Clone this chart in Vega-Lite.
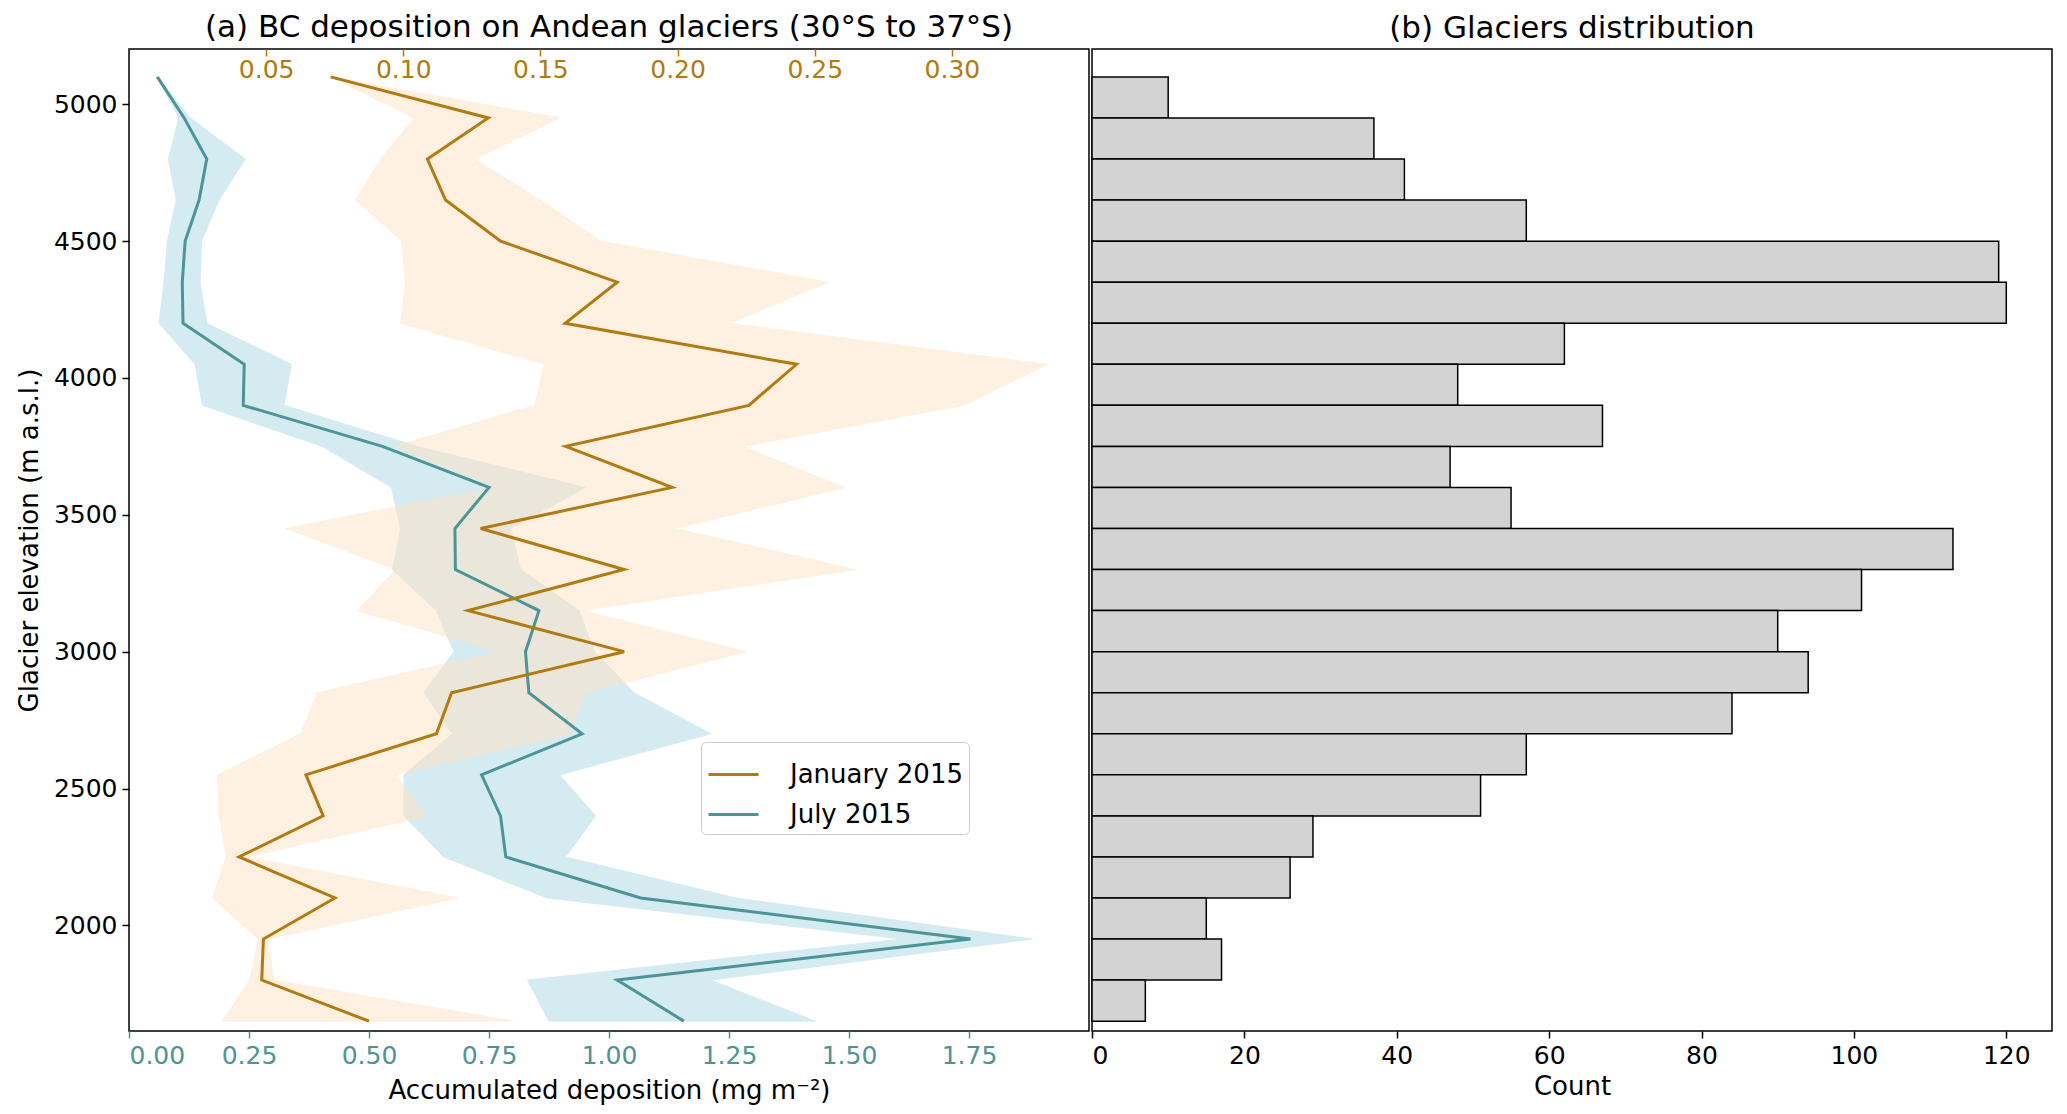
{
  "$schema": "https://vega.github.io/schema/vega-lite/v6.json",
  "background": "white",
  "padding": {"left": 15, "top": 11, "right": 10, "bottom": 10},
  "spacing": 0,
  "config": {
    "font": "DejaVu Sans",
    "view": {"stroke": "black", "strokeWidth": 1.5},
    "axis": {
      "labelFont": "DejaVu Sans", "labelFontSize": 25, "labelColor": "black",
      "titleFont": "DejaVu Sans", "titleFontSize": 26, "titleFontWeight": "normal", "titleColor": "black",
      "domain": false, "grid": false, "tickColor": "black", "tickSize": 7, "tickWidth": 1.5, "labelPadding": 5
    },
    "title": {"font": "DejaVu Sans", "fontSize": 31, "fontWeight": "normal", "color": "black", "offset": 0}
  },
  "datasets": {
    "bc": [
      {"elev": 5100, "jan": 0.0735, "jan_lo": 0.0735, "jan_hi": 0.0735, "jul": 0.059, "jul_lo": 0.059, "jul_hi": 0.059},
      {"elev": 4950, "jan": 0.131, "jan_lo": 0.104, "jan_hi": 0.157, "jul": 0.115, "jul_lo": 0.104, "jul_hi": 0.128},
      {"elev": 4800, "jan": 0.1088, "jan_lo": 0.0917, "jan_hi": 0.126, "jul": 0.162, "jul_lo": 0.082, "jul_hi": 0.242},
      {"elev": 4650, "jan": 0.1154, "jan_lo": 0.0826, "jan_hi": 0.150, "jul": 0.146, "jul_lo": 0.0985, "jul_hi": 0.1875},
      {"elev": 4500, "jan": 0.1355, "jan_lo": 0.0994, "jan_hi": 0.172, "jul": 0.117, "jul_lo": 0.080, "jul_hi": 0.151},
      {"elev": 4350, "jan": 0.178, "jan_lo": 0.1008, "jan_hi": 0.255, "jul": 0.111, "jul_lo": 0.073, "jul_hi": 0.148},
      {"elev": 4200, "jan": 0.159, "jan_lo": 0.099, "jan_hi": 0.219, "jul": 0.1125, "jul_lo": 0.0625, "jul_hi": 0.162},
      {"elev": 4050, "jan": 0.2434, "jan_lo": 0.1515, "jan_hi": 0.3348, "jul": 0.240, "jul_lo": 0.1375, "jul_hi": 0.338},
      {"elev": 3900, "jan": 0.226, "jan_lo": 0.148, "jan_hi": 0.3044, "jul": 0.238, "jul_lo": 0.153, "jul_hi": 0.323},
      {"elev": 3750, "jan": 0.1592, "jan_lo": 0.0966, "jan_hi": 0.2236, "jul": 0.528, "jul_lo": 0.403, "jul_hi": 0.600},
      {"elev": 3600, "jan": 0.198, "jan_lo": 0.133, "jan_hi": 0.261, "jul": 0.750, "jul_lo": 0.5465, "jul_hi": 0.951},
      {"elev": 3450, "jan": 0.1282, "jan_lo": 0.0571, "jan_hi": 0.199, "jul": 0.679, "jul_lo": 0.566, "jul_hi": 0.795},
      {"elev": 3300, "jan": 0.1805, "jan_lo": 0.0973, "jan_hi": 0.265, "jul": 0.680, "jul_lo": 0.549, "jul_hi": 0.816},
      {"elev": 3150, "jan": 0.1236, "jan_lo": 0.0832, "jan_hi": 0.1653, "jul": 0.854, "jul_lo": 0.640, "jul_hi": 0.9375},
      {"elev": 3000, "jan": 0.1805, "jan_lo": 0.1349, "jan_hi": 0.225, "jul": 0.826, "jul_lo": 0.677, "jul_hi": 0.970},
      {"elev": 2850, "jan": 0.1176, "jan_lo": 0.0686, "jan_hi": 0.1665, "jul": 0.833, "jul_lo": 0.6146, "jul_hi": 1.052},
      {"elev": 2700, "jan": 0.1121, "jan_lo": 0.0626, "jan_hi": 0.161, "jul": 0.944, "jul_lo": 0.6736, "jul_hi": 1.2118},
      {"elev": 2550, "jan": 0.0645, "jan_lo": 0.0322, "jan_hi": 0.0972, "jul": 0.7346, "jul_lo": 0.573, "jul_hi": 0.897},
      {"elev": 2400, "jan": 0.0708, "jan_lo": 0.0328, "jan_hi": 0.1088, "jul": 0.774, "jul_lo": 0.573, "jul_hi": 0.972},
      {"elev": 2250, "jan": 0.0401, "jan_lo": 0.0355, "jan_hi": 0.043, "jul": 0.785, "jul_lo": 0.656, "jul_hi": 0.9096},
      {"elev": 2100, "jan": 0.0751, "jan_lo": 0.0304, "jan_hi": 0.120, "jul": 1.066, "jul_lo": 0.871, "jul_hi": 1.264},
      {"elev": 1950, "jan": 0.049, "jan_lo": 0.0471, "jan_hi": 0.0504, "jul": 1.753, "jul_lo": 1.611, "jul_hi": 1.882},
      {"elev": 1800, "jan": 0.0484, "jan_lo": 0.044, "jan_hi": 0.0529, "jul": 1.017, "jul_lo": 0.830, "jul_hi": 1.212},
      {"elev": 1650, "jan": 0.0875, "jan_lo": 0.034, "jan_hi": 0.140, "jul": 1.156, "jul_lo": 0.875, "jul_hi": 1.430}
    ],
    "glaciers": [
      {"lo": 4950, "hi": 5100, "count": 10},
      {"lo": 4800, "hi": 4950, "count": 37},
      {"lo": 4650, "hi": 4800, "count": 41},
      {"lo": 4500, "hi": 4650, "count": 57},
      {"lo": 4350, "hi": 4500, "count": 119},
      {"lo": 4200, "hi": 4350, "count": 120},
      {"lo": 4050, "hi": 4200, "count": 62},
      {"lo": 3900, "hi": 4050, "count": 48},
      {"lo": 3750, "hi": 3900, "count": 67},
      {"lo": 3600, "hi": 3750, "count": 47},
      {"lo": 3450, "hi": 3600, "count": 55},
      {"lo": 3300, "hi": 3450, "count": 113},
      {"lo": 3150, "hi": 3300, "count": 101},
      {"lo": 3000, "hi": 3150, "count": 90},
      {"lo": 2850, "hi": 3000, "count": 94},
      {"lo": 2700, "hi": 2850, "count": 84},
      {"lo": 2550, "hi": 2700, "count": 57},
      {"lo": 2400, "hi": 2550, "count": 51},
      {"lo": 2250, "hi": 2400, "count": 29},
      {"lo": 2100, "hi": 2250, "count": 26},
      {"lo": 1950, "hi": 2100, "count": 15},
      {"lo": 1800, "hi": 1950, "count": 17},
      {"lo": 1650, "hi": 1800, "count": 7}
    ]
  },
  "hconcat": [
    {
      "title": "(a) BC deposition on Andean glaciers (30°S to 37°S)",
      "width": 960,
      "height": 982,
      "data": {"name": "bc"},
      "layer": [
        {
          "mark": {"type": "area", "orient": "horizontal", "color": "#add8e6", "opacity": 0.5, "stroke": "#add8e6", "strokeWidth": 1},
          "encoding": {
            "y": {
              "field": "elev", "type": "quantitative",
              "scale": {"domain": [1614, 5202], "nice": false, "zero": false},
              "axis": {"values": [2000, 2500, 3000, 3500, 4000, 4500, 5000], "format": "d", "title": "Glacier elevation (m a.s.l.)", "titlePadding": 11}
            },
            "x": {
              "field": "jul_lo", "type": "quantitative",
              "scale": {"domain": [0, 2], "nice": false, "zero": false},
              "axis": {"orient": "bottom", "values": [0, 0.25, 0.5, 0.75, 1, 1.25, 1.5, 1.75], "format": ".2f", "labelColor": "#4a9597", "tickColor": "#4a9597", "title": "Accumulated deposition (mg m⁻²)", "titlePadding": 9}
            },
            "x2": {"field": "jul_hi"}
          }
        },
        {
          "mark": {"type": "area", "orient": "horizontal", "color": "#ffe4c4", "opacity": 0.5, "stroke": "#ffe4c4", "strokeWidth": 1},
          "encoding": {
            "y": {"field": "elev", "type": "quantitative"},
            "x": {
              "field": "jan_lo", "type": "quantitative",
              "scale": {"domain": [0, 0.35], "nice": false, "zero": false},
              "axis": {"orient": "top", "values": [0.05, 0.1, 0.15, 0.2, 0.25, 0.3], "format": ".2f", "labelColor": "#b47a0b", "tickColor": "#b47a0b", "tickSize": -7, "labelPadding": -26, "title": null}
            },
            "x2": {"field": "jan_hi"}
          }
        },
        {
          "mark": {"type": "line", "strokeWidth": 3},
          "encoding": {
            "y": {"field": "elev", "type": "quantitative"},
            "x": {"field": "jul", "type": "quantitative", "scale": {"domain": [0, 2], "nice": false, "zero": false}, "axis": null},
            "order": {"field": "elev", "type": "quantitative"},
            "color": {
              "datum": "July 2015", "type": "nominal",
              "scale": {"domain": ["January 2015", "July 2015"], "range": ["#b47a0b", "#4a9597"]},
              "legend": {
                "orient": "none", "legendX": 572, "legendY": 693, "title": null,
                "symbolType": "stroke", "symbolSize": 2500, "symbolStrokeWidth": 3,
                "labelFont": "DejaVu Sans", "labelFontSize": 26, "labelColor": "black", "labelOffset": 30, "labelLimit": 400,
                "rowPadding": -12, "padding": 6,
                "fillColor": "white", "strokeColor": "#cccccc", "cornerRadius": 5
              }
            }
          }
        },
        {
          "mark": {"type": "line", "strokeWidth": 3},
          "encoding": {
            "y": {"field": "elev", "type": "quantitative"},
            "x": {"field": "jan", "type": "quantitative", "scale": {"domain": [0, 0.35], "nice": false, "zero": false}, "axis": null},
            "order": {"field": "elev", "type": "quantitative"},
            "color": {"datum": "January 2015", "type": "nominal"}
          }
        }
      ],
      "resolve": {"scale": {"x": "independent"}}
    },
    {
      "title": "(b) Glaciers distribution",
      "width": 960,
      "height": 982,
      "data": {"name": "glaciers"},
      "mark": {"type": "rect", "color": "#d3d3d3", "stroke": "black", "strokeWidth": 1.5},
      "encoding": {
        "y": {"field": "lo", "type": "quantitative", "scale": {"domain": [1614, 5202], "nice": false, "zero": false}, "axis": null},
        "y2": {"field": "hi"},
        "x": {"field": "count", "type": "quantitative", "scale": {"domain": [0, 126], "nice": false}, "axis": {"values": [0, 20, 40, 60, 80, 100, 120], "title": "Count", "titlePadding": 5}},
        "x2": {"datum": 0}
      }
    }
  ]
}
